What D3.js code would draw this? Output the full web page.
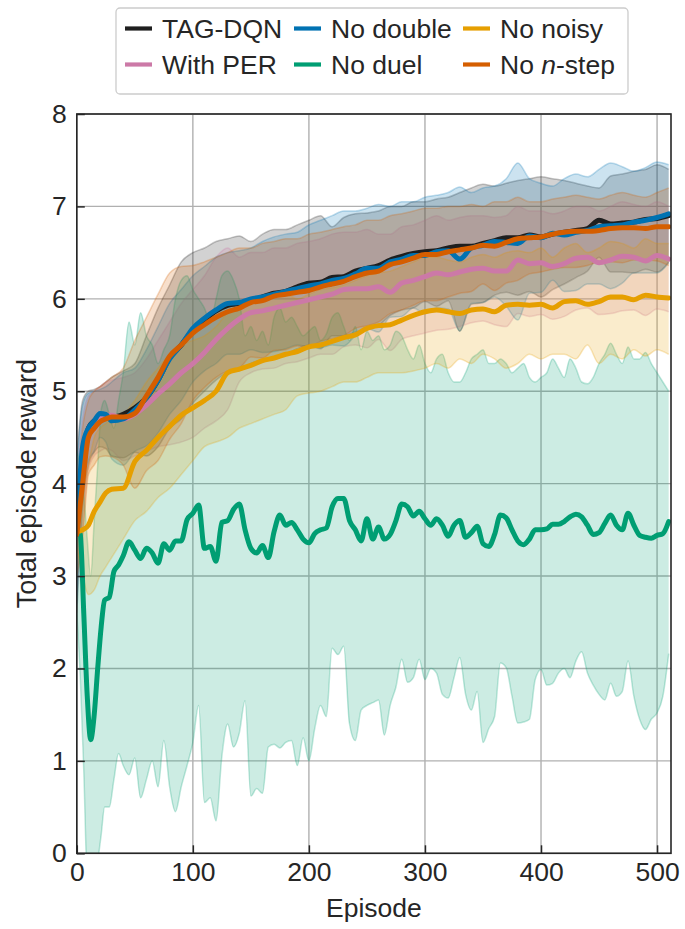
<!DOCTYPE html>
<html><head><meta charset="utf-8">
<script src="https://cdn.jsdelivr.net/npm/d3@7"></script>
<style>
body{margin:0;background:#fff;}
text{font-family:"Liberation Sans",Arial,Helvetica,sans-serif;fill:#262626;}
</style>
</head><body>
<svg id="chart" width="685" height="929"></svg>
<script>
// ---------- data ----------
const episodes = [0,5,10,15,20,25,30,
  40,50,60,70,80,90,100,
  110,120,130,140,150,160,170,180,190,200,
  210,220,230,240,250,260,270,280,290,300,
  310,320,330,340,350,360,370,380,390,400,
  410,420,430,440,450,460,470,480,490,500,
  510];

const tagMean = [3.45,4.3,4.6,4.68,4.72,4.74,4.72,
  4.75,4.82,4.93,5.12,5.36,5.5,5.66,
  5.77,5.87,5.93,5.95,5.97,6.02,6.06,6.08,6.13,6.17,
  6.18,6.23,6.24,6.3,6.33,6.36,6.42,6.46,6.49,6.51,
  6.52,6.55,6.57,6.57,6.6,6.63,6.66,6.66,6.69,6.67,
  6.7,6.72,6.74,6.76,6.85,6.81,6.82,6.83,6.86,6.87,
  6.9];
const tagUpper = [4.3,4.9,5.0,5.02,5.05,5.1,5.15,
  5.22,5.3,5.6,5.9,6.15,6.4,6.5,
  6.55,6.62,6.65,6.68,6.62,6.7,6.75,6.75,6.8,6.85,
  6.9,6.78,6.88,6.92,6.93,6.95,7.0,7.0,7.05,7.05,
  7.08,7.1,7.15,7.2,7.24,7.22,7.25,7.28,7.3,7.32,
  7.3,7.28,7.25,7.22,7.2,7.33,7.35,7.38,7.4,7.45,
  7.4];
const tagLower = [2.6,3.7,4.2,4.34,4.4,4.38,4.3,
  4.28,4.34,4.3,4.4,4.6,4.7,4.87,
  5.0,5.12,5.2,5.22,5.3,5.34,5.37,5.4,5.46,5.5,
  5.46,5.6,5.6,5.64,5.67,5.71,5.82,5.88,5.9,5.97,
  5.92,5.98,5.65,5.94,5.96,6.04,6.07,6.04,6.08,6.02,
  6.1,6.16,6.23,6.3,6.45,6.29,6.29,6.28,6.32,6.29,
  6.4];

const perMean = [3.45,4.1,4.55,4.65,4.7,4.74,4.74,
  4.7,4.75,4.85,4.97,5.08,5.2,5.3,
  5.42,5.56,5.68,5.78,5.85,5.87,5.9,5.93,5.96,5.99,
  6.02,6.05,6.1,6.11,6.11,6.13,6.07,6.17,6.2,6.24,
  6.28,6.26,6.29,6.32,6.33,6.3,6.3,6.42,6.38,6.39,
  6.35,6.38,6.44,6.45,6.39,6.42,6.46,6.45,6.41,6.47,
  6.43];
const perUpper = [4.1,4.7,4.95,5.0,5.05,5.1,5.12,
  5.15,5.2,5.35,5.55,5.75,5.95,6.1,
  6.25,6.45,6.55,6.45,6.5,6.5,6.55,6.55,6.6,6.62,
  6.65,6.7,6.72,6.72,6.75,6.7,6.7,6.78,6.8,6.85,
  6.9,6.85,6.88,6.9,6.9,6.88,6.9,7.0,6.95,6.95,
  6.92,6.95,7.0,7.0,6.95,7.0,7.05,7.02,7.0,7.05,
  7.0];
const perLower = [2.8,3.5,4.15,4.3,4.35,4.38,4.36,
  4.25,4.3,4.35,4.4,4.42,4.45,4.5,
  4.6,4.68,4.8,5.1,5.2,5.24,5.25,5.3,5.32,5.36,
  5.4,5.4,5.48,5.5,5.47,5.56,5.44,5.56,5.6,5.63,
  5.66,5.67,5.7,5.74,5.76,5.72,5.7,5.84,5.81,5.83,
  5.78,5.81,5.88,5.9,5.83,5.84,5.87,5.88,5.82,5.89,
  5.86];

const doubleMean = [3.45,4.4,4.6,4.68,4.76,4.75,4.68,
  4.7,4.8,4.93,5.12,5.35,5.5,5.68,
  5.79,5.88,5.95,5.96,6.0,6.02,6.05,6.08,6.11,6.14,
  6.16,6.2,6.22,6.27,6.33,6.33,6.4,6.43,6.47,6.47,
  6.51,6.52,6.43,6.55,6.58,6.62,6.61,6.6,6.68,6.66,
  6.71,6.69,6.72,6.74,6.78,6.79,6.8,6.83,6.85,6.88,
  6.92];
const doubleUpper = [4.2,4.85,4.98,5.0,5.02,5.05,5.1,
  5.2,5.25,5.45,5.7,5.95,6.1,6.25,
  6.35,6.45,6.5,6.52,6.55,6.62,6.67,6.7,6.72,6.8,
  6.85,6.9,6.95,6.95,6.98,7.02,7.0,7.05,7.05,7.1,
  7.12,7.15,7.21,7.15,7.2,7.22,7.3,7.47,7.3,7.25,
  7.22,7.3,7.35,7.32,7.4,7.47,7.43,7.38,7.42,7.48,
  7.45];
const doubleLower = [2.7,3.9,4.25,4.35,4.5,4.45,4.27,
  4.2,4.35,4.41,4.55,4.75,4.9,5.1,
  5.22,5.3,5.4,5.4,5.45,5.42,5.43,5.46,5.5,5.48,
  5.47,5.5,5.49,5.6,5.68,5.64,5.8,5.81,5.9,5.84,
  5.9,5.89,5.65,5.95,5.96,6.02,5.92,5.77,6.06,6.07,
  6.2,6.08,6.09,6.16,6.16,6.11,6.17,6.28,6.28,6.28,
  6.39];

const duelEpisodes = [0,3,6,9,12,15,18,21,24,28,32,36,40,
  45,50,55,60,65,70,75,80,85,90,95,100,
  105,110,115,120,125,130,135,140,145,150,
  155,160,165,170,175,180,185,190,195,200,
  205,210,215,220,225,230,235,240,245,250,
  255,260,265,270,275,280,285,290,295,300,
  305,310,315,320,325,330,335,340,345,350,
  355,360,365,370,375,380,385,390,395,400,
  405,410,415,420,425,430,435,440,445,450,
  455,460,465,470,475,480,485,490,495,500,
  505,510];
const duelMean = [3.5,3.45,2.6,1.7,1.23,1.5,2.0,2.45,2.74,2.77,3.05,3.12,3.22,
  3.37,3.28,3.19,3.3,3.25,3.14,3.35,3.28,3.38,3.38,3.61,3.68,
  3.77,3.3,3.32,3.16,3.58,3.6,3.72,3.78,3.5,3.3,
  3.25,3.33,3.2,3.48,3.66,3.55,3.58,3.5,3.4,3.36,
  3.46,3.5,3.52,3.75,3.84,3.84,3.6,3.5,3.38,3.62,
  3.4,3.53,3.4,3.45,3.6,3.78,3.75,3.65,3.7,3.62,
  3.55,3.62,3.55,3.43,3.55,3.6,3.42,3.47,3.54,3.35,
  3.32,3.45,3.66,3.63,3.5,3.38,3.34,3.4,3.5,3.5,
  3.51,3.56,3.56,3.59,3.64,3.67,3.64,3.55,3.45,3.47,
  3.57,3.66,3.55,3.5,3.68,3.55,3.44,3.42,3.41,3.44,
  3.46,3.59];
const duelUpper = [4.35,4.2,3.9,3.4,3.0,3.6,4.2,4.8,4.9,4.75,4.6,4.9,5.2,
  5.75,5.5,5.85,5.6,5.5,5.3,5.45,5.6,6.0,6.2,6.25,6.1,
  6.0,5.9,5.75,6.0,6.25,6.3,6.2,6.0,5.6,5.7,
  5.55,5.65,5.5,5.8,5.9,5.75,5.8,5.7,5.6,5.65,
  5.7,5.55,5.62,5.8,5.85,5.7,5.55,5.7,5.45,5.65,
  5.55,5.6,5.45,5.5,5.65,5.6,5.45,5.35,5.5,5.3,
  5.2,5.35,5.4,5.2,5.1,5.1,5.2,5.35,5.4,5.45,
  5.3,5.3,5.35,5.3,5.2,5.25,5.3,5.15,5.1,5.15,
  5.2,5.35,5.25,5.15,5.35,5.25,5.1,5.08,5.15,5.3,
  5.4,5.52,5.4,5.3,5.48,5.35,5.35,5.42,5.3,5.2,
  5.1,5.0];
const duelLower = [2.6,1.9,0.9,-0.3,-0.5,-0.4,-0.1,0.2,0.5,0.5,0.8,1.08,0.95,
  0.85,1.03,0.6,0.8,1.0,0.72,1.22,0.72,0.45,0.72,0.95,1.2,
  1.6,0.55,0.6,0.35,1.05,1.4,1.15,1.3,1.65,0.62,
  0.7,0.65,1.15,1.18,1.14,1.2,1.22,0.95,1.25,1.0,
  1.35,1.6,1.48,2.22,2.15,2.24,1.4,1.22,1.55,1.6,
  1.63,1.66,1.28,1.6,1.8,2.1,1.85,1.9,2.1,1.88,
  2.0,1.95,1.72,1.68,1.9,2.12,1.72,1.55,1.75,1.2,
  1.35,1.48,2.06,2.01,1.7,1.41,1.42,1.45,1.88,1.99,
  1.82,1.84,1.95,2.0,1.9,2.08,2.18,1.95,1.82,1.72,
  1.66,1.84,1.7,1.75,2.08,1.7,1.45,1.34,1.45,1.52,
  1.7,2.16];

const noisyMean = [3.48,3.5,3.55,3.7,3.8,3.9,3.94,
  3.95,4.24,4.36,4.5,4.62,4.74,4.82,
  4.9,5.0,5.2,5.24,5.28,5.33,5.36,5.4,5.43,5.48,
  5.5,5.54,5.58,5.61,5.68,5.71,5.72,5.77,5.82,5.86,
  5.88,5.86,5.84,5.88,5.89,5.86,5.93,5.94,5.93,5.94,
  5.9,5.97,5.98,5.94,5.97,6.02,6.02,5.99,6.04,6.02,
  6.01];
const noisyUpper = [3.7,3.9,4.2,4.5,4.6,4.65,4.7,
  4.75,4.9,5.1,5.25,5.4,5.5,5.55,
  5.6,5.7,5.85,5.9,5.95,6.0,6.05,6.05,6.0,6.05,
  6.1,6.12,6.15,6.2,6.25,6.28,6.3,6.35,6.4,6.45,
  6.45,6.42,6.4,6.45,6.48,6.45,6.5,6.52,6.5,6.55,
  6.45,6.55,6.6,6.5,6.55,6.62,6.6,6.55,6.65,6.6,
  6.6];
const noisyLower = [3.3,3.0,2.8,2.85,3.0,3.1,3.2,
  3.4,3.6,3.7,3.85,3.95,4.1,4.25,
  4.4,4.45,4.5,4.6,4.65,4.7,4.75,4.8,4.95,4.98,
  5.0,5.05,5.1,5.1,5.15,5.2,5.2,5.2,5.22,5.25,
  5.3,5.25,5.35,5.3,5.4,5.35,5.25,5.3,5.4,5.35,
  5.4,5.4,5.35,5.5,5.3,5.4,5.35,5.45,5.38,5.45,
  5.4];

const nstepMean = [3.45,4.0,4.5,4.6,4.67,4.7,4.72,
  4.72,4.76,4.95,5.15,5.38,5.5,5.63,
  5.72,5.8,5.86,5.9,5.96,5.98,6.03,6.05,6.07,6.09,
  6.13,6.16,6.19,6.24,6.28,6.3,6.37,6.4,6.44,6.48,
  6.48,6.51,6.53,6.55,6.58,6.57,6.61,6.65,6.66,6.67,
  6.7,6.72,6.73,6.73,6.74,6.76,6.77,6.77,6.76,6.78,
  6.78];
const nstepUpper = [3.9,4.6,4.9,5.0,5.05,5.1,5.15,
  5.25,5.55,5.8,6.05,6.28,6.35,6.36,
  6.4,6.45,6.5,6.55,6.55,6.6,6.62,6.65,6.65,6.7,
  6.72,6.75,6.78,6.8,6.85,6.85,6.9,6.92,6.95,6.98,
  6.98,7.0,7.0,7.02,7.0,7.05,7.05,7.1,7.05,7.05,
  7.08,7.1,7.12,7.1,7.08,7.12,7.15,7.12,7.1,7.15,
  7.2];
const nstepLower = [3.0,3.4,4.1,4.2,4.29,4.3,4.29,
  4.2,3.95,4.14,4.25,4.48,4.65,4.9,
  5.04,5.15,5.22,5.25,5.37,5.36,5.44,5.45,5.49,5.48,
  5.54,5.57,5.6,5.68,5.71,5.75,5.84,5.88,5.93,5.98,
  5.98,6.02,6.06,6.08,6.16,6.09,6.17,6.2,6.27,6.29,
  6.32,6.34,6.34,6.36,6.4,6.4,6.39,6.42,6.42,6.41,
  6.36];

const seriesNames = ["TAG-DQN","With PER","No double","No duel","No noisy","No n-step"];
const seriesColors = ["#1f1f1f","#CC79A7","#0072B2","#009E73","#E69F00","#D55E00"];
const xTicks = [0,100,200,300,400,500];
const yTicks = [0,1,2,3,4,5,6,7,8];

// ---------- build ----------
function pack(xs, m, lo, hi){ return xs.map((x,i)=>({x:x, m:m[i], lo:lo[i], hi:hi[i]})); }
const series = [
  pack(episodes, tagMean, tagLower, tagUpper),
  pack(episodes, perMean, perLower, perUpper),
  pack(episodes, doubleMean, doubleLower, doubleUpper),
  pack(duelEpisodes, duelMean, duelLower, duelUpper),
  pack(episodes, noisyMean, noisyLower, noisyUpper),
  pack(episodes, nstepMean, nstepLower, nstepUpper)
];

const W = 685, H = 929;
const FS = 26.5;
const margin = {left:76.8, right:14, top:114, bottom:75.7};
const iw = W - margin.left - margin.right, ih = H - margin.top - margin.bottom;
const svg = d3.select("#chart");
const g = svg.append("g").attr("transform",`translate(${margin.left},${margin.top})`);
const x = d3.scaleLinear().domain([0,512]).range([0,iw]);
const y = d3.scaleLinear().domain([0,8]).range([ih,0]);

svg.append("defs").append("clipPath").attr("id","clip")
  .append("rect").attr("width",iw).attr("height",ih);

// grid
g.append("g").selectAll("line").data(xTicks).join("line")
  .attr("x1",d=>x(d)).attr("x2",d=>x(d)).attr("y1",0).attr("y2",ih)
  .attr("stroke","#b0b0b0").attr("stroke-width",1.4);
g.append("g").selectAll("line").data(yTicks).join("line")
  .attr("y1",d=>y(d)).attr("y2",d=>y(d)).attr("x1",0).attr("x2",iw)
  .attr("stroke","#b0b0b0").attr("stroke-width",1.4);

const plot = g.append("g").attr("clip-path","url(#clip)");
const area = d3.area().x(d=>x(d.x)).y0(d=>y(d.lo)).y1(d=>y(d.hi)).curve(d3.curveMonotoneX);
const lineHi = d3.line().x(d=>x(d.x)).y(d=>y(d.hi)).curve(d3.curveMonotoneX);
const lineLo = d3.line().x(d=>x(d.x)).y(d=>y(d.lo)).curve(d3.curveMonotoneX);
const lineM = d3.line().x(d=>x(d.x)).y(d=>y(d.m)).curve(d3.curveMonotoneX);

series.forEach((s,i)=>{
  plot.append("path").datum(s).attr("d",area)
    .attr("fill",seriesColors[i]).attr("fill-opacity",0.2);
  [lineHi,lineLo].forEach(l=>plot.append("path").datum(s).attr("d",l)
    .attr("fill","none").attr("stroke",seriesColors[i]).attr("stroke-opacity",0.25).attr("stroke-width",1.5));
});
series.forEach((s,i)=>{
  plot.append("path").datum(s).attr("d",lineM)
    .attr("fill","none").attr("stroke",seriesColors[i]).attr("stroke-width",5)
    .attr("stroke-linejoin","round").attr("stroke-linecap","round");
});

// axes
const xa = g.append("g").attr("transform",`translate(0,${ih})`)
  .call(d3.axisBottom(x).tickValues(xTicks).tickSize(-8).tickPadding(9).tickFormat(d3.format("d")));
const ya = g.append("g")
  .call(d3.axisLeft(y).tickValues(yTicks).tickSize(-8).tickPadding(10).tickFormat(d3.format("d")));
[xa,ya].forEach(a=>{
  a.select(".domain").remove();
  a.selectAll(".tick line").attr("stroke","#262626").attr("stroke-width",1.5);
  a.selectAll(".tick text").attr("font-size",FS).attr("fill","#262626")
    .style("font-family","'Liberation Sans',Arial,sans-serif");
});
g.append("rect").attr("width",iw).attr("height",ih).attr("fill","none")
  .attr("stroke","#262626").attr("stroke-width",1.6);

// labels
svg.append("text").attr("x",margin.left+iw/2).attr("y",917)
  .attr("text-anchor","middle").attr("font-size",FS).text("Episode");
svg.append("text").attr("transform",`translate(35.5,${margin.top+ih/2}) rotate(-90)`)
  .attr("text-anchor","middle").attr("font-size",27).text("Total episode reward");

// legend
const leg = svg.append("g");
leg.append("rect").attr("x",116).attr("y",8).attr("width",512).attr("height",86)
  .attr("rx",4).attr("fill","#fff").attr("fill-opacity",0.85)
  .attr("stroke","#cccccc").attr("stroke-width",1.3);
const colX = [125,294,463], rowY = [28.5,64.5];
seriesNames.forEach((name,i)=>{
  const c = Math.floor(i/2), r = i%2;
  const lx = colX[c], ly = rowY[r];
  leg.append("line").attr("x1",lx).attr("x2",lx+27).attr("y1",ly).attr("y2",ly)
    .attr("stroke",seriesColors[i]).attr("stroke-width",4.2);
  const t = leg.append("text").attr("x",lx+37).attr("y",ly+9.5).attr("font-size",FS);
  if(name==="No n-step"){
    t.append("tspan").text("No ");
    t.append("tspan").attr("font-style","italic").text("n");
    t.append("tspan").text("-step");
  } else t.text(name);
});
</script>
</body></html>
